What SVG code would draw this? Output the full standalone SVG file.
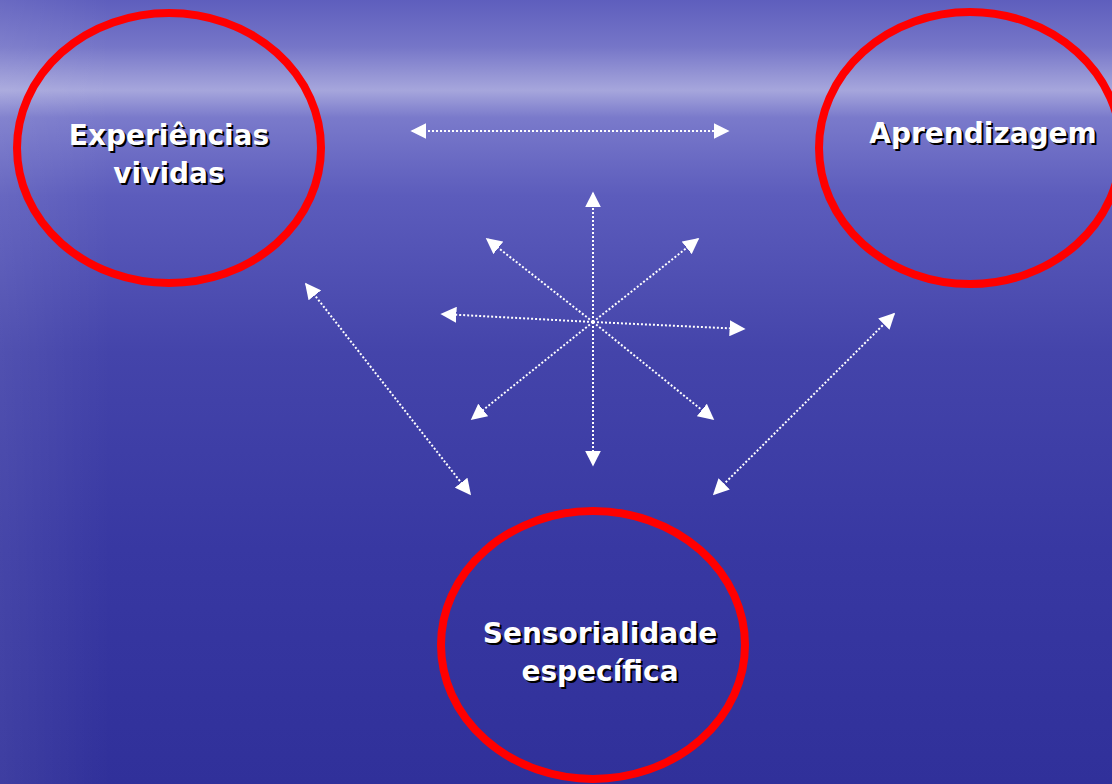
<svg xmlns="http://www.w3.org/2000/svg" width="1112" height="784" viewBox="0 0 1112 784">
<defs>
<linearGradient id="bg" x1="0" y1="0" x2="0" y2="1">
<stop offset="0" stop-color="#5e5ebd"/>
<stop offset="0.06" stop-color="#7676c8"/>
<stop offset="0.115" stop-color="#a6a6dc"/>
<stop offset="0.15" stop-color="#7a7acb"/>
<stop offset="0.25" stop-color="#5c5cbc"/>
<stop offset="0.45" stop-color="#4444aa"/>
<stop offset="0.7" stop-color="#3838a2"/>
<stop offset="1" stop-color="#30309a"/>
</linearGradient>
<linearGradient id="side" x1="0" y1="0" x2="1" y2="0">
<stop offset="0" stop-color="#ffffff" stop-opacity="0.07"/>
<stop offset="0.1" stop-color="#ffffff" stop-opacity="0"/>
<stop offset="1" stop-color="#ffffff" stop-opacity="0"/>
</linearGradient>
<marker id="ah" viewBox="0 0 10 10" refX="9" refY="5" markerWidth="16" markerHeight="16" markerUnits="userSpaceOnUse" orient="auto-start-reverse">
<path d="M0,0 L10,5 L0,10 Z" fill="#ffffff"/>
</marker>
<style>
.ring{fill:none;stroke:#ff0000;stroke-width:8}
.lbl{font-family:"DejaVu Sans",Verdana,sans-serif;font-weight:bold;font-size:28px;text-anchor:middle;fill:#ffffff}
.sh{fill:#000000}
.con{stroke:#ffffff;stroke-width:2;stroke-dasharray:2 2;fill:none;marker-end:url(#ah)}
.both{marker-start:url(#ah)}
</style>
</defs>
<rect width="1112" height="784" fill="url(#bg)"/>
<rect width="1112" height="784" fill="url(#side)"/>
<g id="connectors">
<line class="con both" x1="412" y1="131" x2="728" y2="131"/>
<line class="con" x1="593" y1="322" x2="593" y2="193"/>
<line class="con" x1="593" y1="322" x2="593" y2="465"/>
<line class="con" x1="593" y1="322" x2="442" y2="314"/>
<line class="con" x1="593" y1="322" x2="744" y2="329"/>
<line class="con" x1="593" y1="322" x2="487" y2="239"/>
<line class="con" x1="593" y1="322" x2="698" y2="239"/>
<line class="con" x1="593" y1="322" x2="472" y2="419"/>
<line class="con" x1="593" y1="322" x2="713" y2="419"/>
<line class="con both" x1="306" y1="284" x2="470" y2="494"/>
<line class="con both" x1="894" y1="314" x2="714" y2="494"/>
</g>
<g id="experiencias">
<ellipse class="ring" cx="169" cy="148" rx="152" ry="135"/>
<text class="lbl sh" x="171" y="147">Experiências</text>
<text class="lbl sh" x="171" y="185">vividas</text>
<text class="lbl" x="169" y="145">Experiências</text>
<text class="lbl" x="169" y="183">vividas</text>
</g>
<g id="aprendizagem">
<ellipse class="ring" cx="970" cy="148" rx="151" ry="136"/>
<text class="lbl sh" x="985" y="145">Aprendizagem</text>
<text class="lbl" x="983" y="143">Aprendizagem</text>
</g>
<g id="sensorialidade">
<ellipse class="ring" cx="593" cy="645" rx="152" ry="134"/>
<text class="lbl sh" x="602" y="645">Sensorialidade</text>
<text class="lbl sh" x="602" y="683">específica</text>
<text class="lbl" x="600" y="643">Sensorialidade</text>
<text class="lbl" x="600" y="681">específica</text>
</g>
</svg>
